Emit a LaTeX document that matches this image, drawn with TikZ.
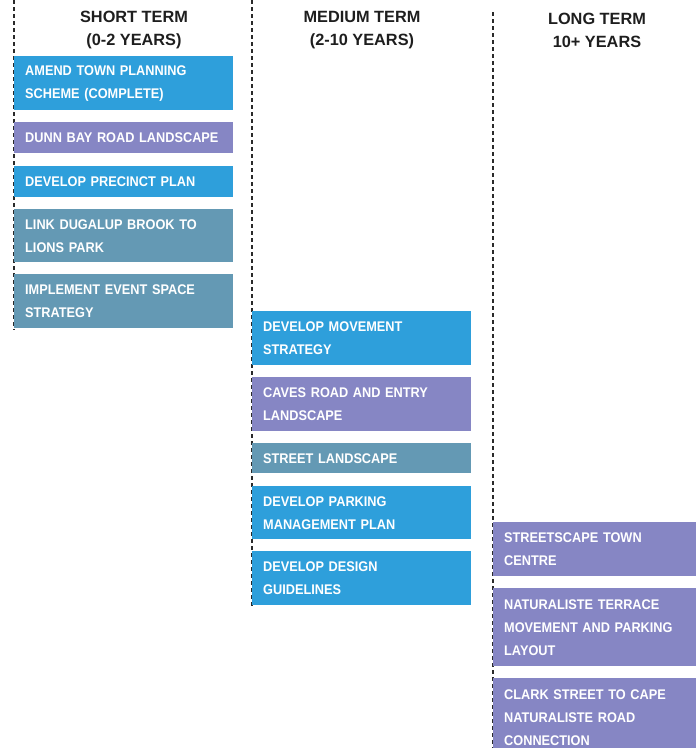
\documentclass[tikz,border=0pt]{standalone}
\usepackage{fontspec}
\setmainfont{Liberation Sans}
\newfontfamily\taskfont[FakeStretch=0.91]{Liberation Sans}
\definecolor{cblue}{HTML}{2E9FDB}
\definecolor{cpurple}{HTML}{8686C4}
\definecolor{cteal}{HTML}{6499B4}
\definecolor{cdash}{HTML}{2A2A2A}
\definecolor{chead}{HTML}{1E1E1E}
\begin{document}
\begin{tikzpicture}[x=1pt,y=-1pt,
  task/.style={anchor=north west, inner xsep=11pt, inner ysep=0pt, text=white,
    font=\taskfont\bfseries\fontsize{14}{23}\selectfont, align=left, draw=none},
  shortbox/.style={task, minimum width=219pt, text width=197pt},
  medbox/.style={task, minimum width=219pt, text width=197pt},
  longbox/.style={task, minimum width=210pt, text width=188pt},
  head/.style={font=\bfseries\fontsize{16.3}{23}\selectfont, text=chead, align=center, inner sep=0pt},
  divider/.style={draw=cdash, line width=1.8pt, dash pattern=on 4pt off 3pt}]
\useasboundingbox (0,0) rectangle (696,748);
\clip (0,0) rectangle (696,748);
% headers
\node[head] (hs) at (134,30) {SHORT TERM\\(0-2 YEARS)};
\node[head] (hm) at (362,30) {MEDIUM TERM\\(2-10 YEARS)};
\node[head] (hl) at (597,30) {LONG TERM\\10+ YEARS};
% dividers
\coordinate (d1a) at (14,0); \coordinate (d1b) at (14,330);
\coordinate (d2a) at (252,0); \coordinate (d2b) at (252,606);
\coordinate (d3a) at (493,12); \coordinate (d3b) at (493,748);
\draw[divider] (d1a) -- (d1b);
\draw[divider] (d2a) -- (d2b);
\draw[divider] (d3a) -- (d3b);
% short term
\node[shortbox, fill=cblue, minimum height=54pt] (s1) at (14,56) {AMEND TOWN PLANNING\\SCHEME (COMPLETE)};
\node[shortbox, fill=cpurple, minimum height=31pt] (s2) at (14,122) {DUNN BAY ROAD LANDSCAPE};
\node[shortbox, fill=cblue, minimum height=31pt] (s3) at (14,166) {DEVELOP PRECINCT PLAN};
\node[shortbox, fill=cteal, minimum height=53pt] (s4) at (14,209) {LINK DUGALUP BROOK TO\\LIONS PARK};
\node[shortbox, fill=cteal, minimum height=54pt] (s5) at (14,274) {IMPLEMENT EVENT SPACE\\STRATEGY};
% medium term
\node[medbox, fill=cblue, minimum height=54pt] (m1) at (252,311) {DEVELOP MOVEMENT\\STRATEGY};
\node[medbox, fill=cpurple, minimum height=54pt] (m2) at (252,377) {CAVES ROAD AND ENTRY\\LANDSCAPE};
\node[medbox, fill=cteal, minimum height=30pt] (m3) at (252,443) {STREET LANDSCAPE};
\node[medbox, fill=cblue, minimum height=53pt] (m4) at (252,486) {DEVELOP PARKING\\MANAGEMENT PLAN};
\node[medbox, fill=cblue, minimum height=54pt] (m5) at (252,551) {DEVELOP DESIGN\\GUIDELINES};
% long term
\node[longbox, fill=cpurple, minimum height=54pt] (l1) at (493,522) {STREETSCAPE TOWN\\CENTRE};
\node[longbox, fill=cpurple, minimum height=78pt] (l2) at (493,588) {NATURALISTE TERRACE\\MOVEMENT AND PARKING\\LAYOUT};
\node[longbox, fill=cpurple, minimum height=78pt] (l3) at (493,678) {CLARK STREET TO CAPE\\NATURALISTE ROAD\\CONNECTION};
\end{tikzpicture}
\end{document}
